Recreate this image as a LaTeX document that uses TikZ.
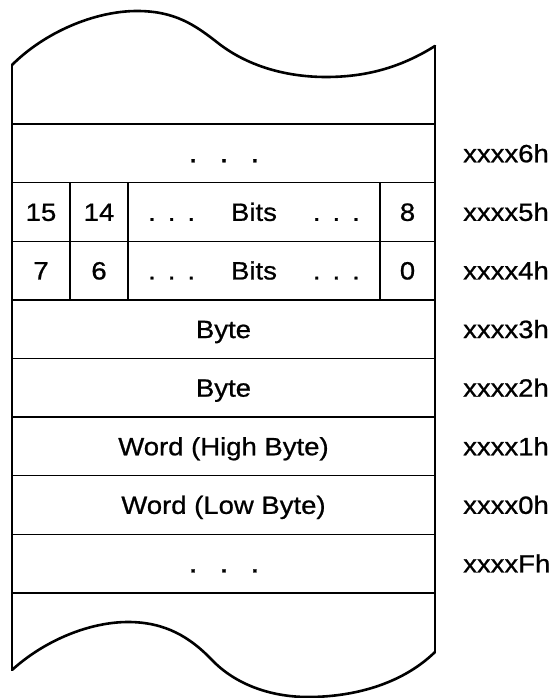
\documentclass[tikz,border=0pt]{standalone}
\usepackage{fontspec}
\setmainfont{Liberation Sans}[FakeStretch=1.1,FakeBold=0.8]
\newcommand{\wdots}{{\fontsize{29}{29}\selectfont .\hspace{22pt}.\hspace{22pt}.}}
\newcommand{\ndots}{.\hspace{12pt}.\hspace{12pt}.}
\begin{document}
\begin{tikzpicture}[x=1pt,y=-1pt,
  edge/.style={line width=1.4pt},
  heavy/.style={line width=2.6pt},
  wave/.style={line width=2.6pt, line join=round, line cap=round},
  txt/.style={font=\fontsize{25}{30}\selectfont, inner sep=0pt, text height=17.9pt, text depth=0pt},
  lbl/.style={txt, anchor=west}]
\useasboundingbox (0,0) rectangle (558,698);
% waves
\draw[wave] (12,65) .. controls (45,32) and (95,11) .. (137,11)
  .. controls (175,11) and (195,25) .. (218,43)
  .. controls (250,68) and (290,77) .. (326,77)
  .. controls (365,77) and (400,68) .. (435,46);
\draw[wave] (12,670) .. controls (45,640) and (90,622) .. (128,622)
  .. controls (165,622) and (190,637) .. (212,660)
  .. controls (235,684) and (270,697) .. (308,697)
  .. controls (350,697) and (400,686) .. (435,652);
% outer verticals
\draw[edge] (12,65) -- (12,670);
\draw[edge] (435,46) -- (435,652);
% row lines
\draw[heavy] (12,124) -- (435,124);
\foreach \y in {182.6,241.2,299.8,358.4,417,475.6,534.2}
  \draw[edge] (12,\y) -- (435,\y);
\draw[heavy] (12,592.8) -- (435,592.8);
% column separators
\foreach \x in {70,128,380}
  \draw[edge] (\x,182.6) -- (\x,299.8);
% cell texts
\node[txt] (d6) at (224,153.3) {\wdots};
\node[txt] (b15) at (41,211.9) {15};
\node[txt] (b14) at (99,211.9) {14};
\node[txt] (bh) at (254,211.9) {\ndots\hspace{36pt}Bits\hspace{36pt}\ndots};
\node[txt] (b8) at (407.5,211.9) {8};
\node[txt] (b7) at (41,270.5) {7};
\node[txt] (b6) at (99,270.5) {6};
\node[txt] (bl) at (254,270.5) {\ndots\hspace{36pt}Bits\hspace{36pt}\ndots};
\node[txt] (b0) at (407.5,270.5) {0};
\node[txt] (y3) at (223.5,329.1) {Byte};
\node[txt] (y2) at (223.5,387.7) {Byte};
\node[txt] (wh) at (223.5,446.3) {Word (High Byte)};
\node[txt] (wl) at (223.5,504.9) {Word (Low Byte)};
\node[txt] (dF) at (224,563.5) {\wdots};
% address labels
\node[lbl] (a6) at (463,153.3) {xxxx6h};
\node[lbl] (a5) at (463,211.9) {xxxx5h};
\node[lbl] (a4) at (463,270.5) {xxxx4h};
\node[lbl] (a3) at (463,329.1) {xxxx3h};
\node[lbl] (a2) at (463,387.7) {xxxx2h};
\node[lbl] (a1) at (463,446.3) {xxxx1h};
\node[lbl] (a0) at (463,504.9) {xxxx0h};
\node[lbl] (aF) at (463,563.5) {xxxxFh};
\end{tikzpicture}
\end{document}
